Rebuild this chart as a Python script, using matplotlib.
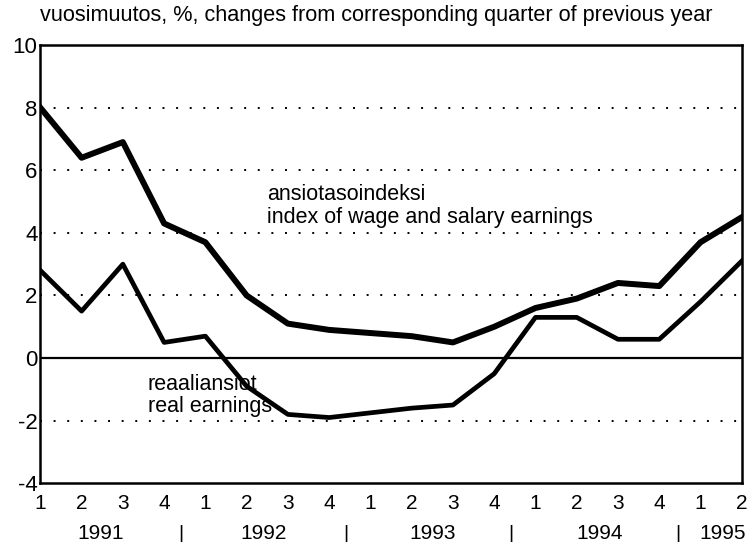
import matplotlib.pyplot as plt

plt.rcParams['font.family'] = ['Liberation Sans', 'DejaVu Sans']

quarters = ["1", "2", "3", "4"] * 4 + ["1", "2"]
years = ["1991", "1992", "1993", "1994", "1995"]
wage_index = [8.0, 6.4, 6.9, 4.3, 3.7, 2.0, 1.1, 0.9, 0.8,
              0.7, 0.5, 1.0, 1.6, 1.9, 2.4, 2.3, 3.7, 4.5]
real_earnings = [2.8, 1.5, 3.0, 0.5, 0.7, -0.9, -1.8, -1.9, -1.75,
                 -1.6, -1.5, -0.5, 1.3, 1.3, 0.6, 0.6, 1.8, 3.1]

x = list(range(1, len(quarters) + 1))

fig = plt.figure(figsize=(7.47, 5.43), dpi=100)
ax = fig.add_axes([0.054, 0.11, 0.939, 0.807])

for y in [-2, 2, 4, 6, 8]:
    ax.axhline(y, color="black", lw=1.4, ls=(0, (1, 6)), zorder=1)
ax.axhline(0, color="black", lw=1.6, zorder=1)

ax.plot(x, wage_index, color="black", lw=4.3, solid_joinstyle="round", zorder=3)
ax.plot(x, real_earnings, color="black", lw=3.4, solid_joinstyle="round", zorder=3)

ax.set_xlim(1, 18)
ax.set_ylim(-4, 10)
ax.set_yticks(range(-4, 11, 2))
ax.set_yticklabels([str(v) for v in range(-4, 11, 2)], fontsize=16)
ax.set_xticks(x)
ax.set_xticklabels(quarters, fontsize=15)
ax.tick_params(axis="x", length=0, pad=8)
ax.tick_params(axis="y", length=0, pad=2)
for s in ax.spines.values():
    s.set_linewidth(1.8)

# year labels below the quarter numbers
for xp, yr in zip([2.45, 6.4, 10.5, 14.55], years[:4]):
    ax.text(xp, -5.6, yr, ha="center", va="center", fontsize=15)
ax.text(18.1, -5.6, years[4], ha="right", va="center", fontsize=15)
for xp in [4.4, 8.4, 12.4, 16.45]:
    ax.text(xp, -5.6, "|", ha="center", va="center", fontsize=14)

ax.text(6.5, 4.85, "ansiotasoindeksi\nindex of wage and salary earnings",
        fontsize=15.5, ha="left", va="center", linespacing=1.1)
ax.text(3.6, -1.2, "reaaliansiot\nreal earnings",
        fontsize=15.5, ha="left", va="center", linespacing=1.1)

fig.text(0.054, 0.972, "vuosimuutos, %, changes from corresponding quarter of previous year",
         fontsize=15.6, ha="left", va="center")

fig.savefig("out.png", dpi=100)
